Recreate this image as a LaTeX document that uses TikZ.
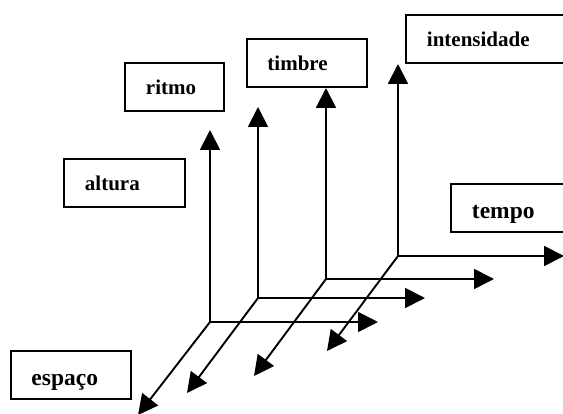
\documentclass[tikz,border=0pt]{standalone}
\usepackage{fontspec}
\setmainfont{Liberation Serif}
\usetikzlibrary{arrows.meta}
\begin{document}
\begin{tikzpicture}[x=1pt,y=-1pt,
  box/.style={draw, line width=1.9pt, rectangle, anchor=north west, align=left,
    inner xsep=21pt, inner ysep=0pt, minimum height=48.5pt,
    text height=24pt, text depth=10pt,
    font=\bfseries\fontsize{21}{25}\selectfont},
  bigtext/.style={font=\bfseries\fontsize{23.5}{28}\selectfont,
    text height=27pt, text depth=7pt},
  ax/.style={line width=1.9pt, -{Triangle[length=20pt,width=20pt]}}]
\useasboundingbox (0,0) rectangle (563,414);
\clip (0,0) rectangle (563,414);
% boxes
\node[box, bigtext, text width=79pt, inner xsep=20.5pt] (espaco) at (10,350) {espaço};
\node[box, text width=79pt] (altura) at (63,158) {altura};
\node[box, text width=57pt] (ritmo) at (124,62) {ritmo};
\node[box, text width=79pt, inner xsep=20.5pt] (timbre) at (246,38) {timbre};
\node[box, text width=140pt] (intens) at (405,14) {intensidade};
\node[box, bigtext, text width=100pt] (tempo) at (450,183) {tempo};
% origins
\coordinate (o1) at (210,322);
\coordinate (o2) at (258,298);
\coordinate (o3) at (326,279);
\coordinate (o4) at (398,256);
% up tips
\coordinate (u1) at (210,130);
\coordinate (u2) at (258,107);
\coordinate (u3) at (326,88);
\coordinate (u4) at (398,64);
% right tips
\coordinate (r1) at (378,322);
\coordinate (r2) at (425,298);
\coordinate (r3) at (494,279);
\coordinate (r4) at (564,256);
% diagonal tips
\coordinate (d1) at (138,415);
\coordinate (d2) at (187,393);
\coordinate (d3) at (254,376);
\coordinate (d4) at (327,351);
\foreach \i in {1,2,3,4}{
  \draw[ax] (o\i) -- (u\i);
  \draw[ax] (o\i) -- (r\i);
  \draw[ax] (o\i) -- (d\i);
}
\end{tikzpicture}
\end{document}
